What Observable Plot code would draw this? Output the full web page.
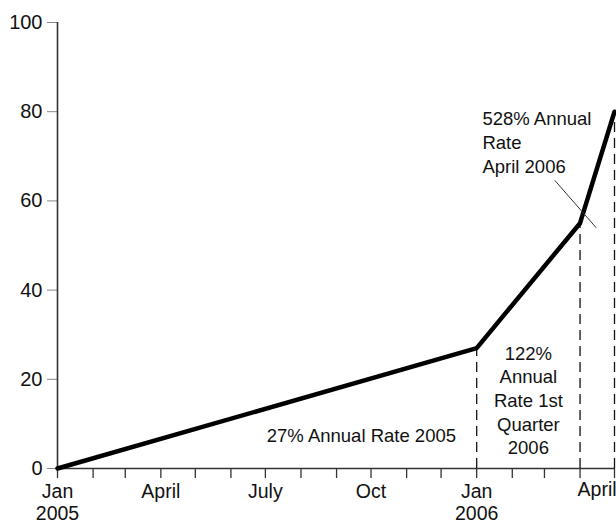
<!DOCTYPE html>
<html>
<head>
<meta charset="utf-8">
<script src="https://cdn.jsdelivr.net/npm/d3@7"></script>
<script src="https://cdn.jsdelivr.net/npm/@observablehq/plot@0.6"></script>
<style>
  html, body { margin: 0; padding: 0; background: #fff; }
  #chart svg { display: block; }
</style>
</head>
<body>
<div id="chart"></div>
<script>
// ---- data ----
const dates = ["2005-01-01", "2006-01-01", "2006-04-01", "2006-05-01"];
const values = [0, 27, 55, 80];
const dashDates = ["2006-01-01", "2006-04-01", "2006-05-01"];
const dashValues = [27, 55, 80];
const yTicks = [0, 20, 40, 60, 80, 100];
const labelDates = ["2005-01-01", "2005-04-01", "2005-07-01", "2005-10-01", "2006-01-01"];
const labelTexts = ["Jan\n2005", "April", "July", "Oct", "Jan\n2006"];
const lastLabelDate = "2006-04-01";
const lastLabelText = "April";
const note2005 = "27% Annual Rate 2005";
const noteQ1 = "122%\nAnnual\nRate 1st\nQuarter\n2006";
const noteApril = "528% Annual\nRate\nApril 2006";

const parse = d3.utcParse("%Y-%m-%d");
const series = dates.map((d, i) => ({date: parse(d), value: values[i]}));
const dashes = dashDates.map((d, i) => ({date: parse(d), value: dashValues[i]}));
const months = d3.utcMonth.range(parse("2005-01-01"), parse("2006-05-02"));
const labels = labelDates.map((d, i) => ({date: parse(d), text: labelTexts[i]}));

const font = "'Liberation Sans', Arial, Helvetica, sans-serif";

const chart = Plot.plot({
  width: 616,
  height: 528,
  marginLeft: 57,
  marginRight: 2,
  marginTop: 22,
  marginBottom: 60,
  style: {fontFamily: font, background: "#fff"},
  x: {type: "utc", domain: [parse("2005-01-01"), parse("2006-05-01")], axis: null},
  y: {domain: [0, 100], axis: null},
  marks: [
    // y axis
    Plot.axisY({ticks: yTicks, tickSize: 10, tickPadding: 5, fontSize: 20, stroke: "#888", color: "#111", label: null}),
    Plot.ruleX([parse("2005-01-01")], {y1: 0, y2: 100, stroke: "#333", strokeWidth: 1.6}),
    // x axis
    Plot.axisX({ticks: months, tickSize: 10, tickFormat: () => "", stroke: "#333", strokeWidth: 1.3, label: null}),
    Plot.ruleY([0], {stroke: "#333", strokeWidth: 1.6}),
    Plot.text(labels, {x: "date", y: 0, text: "text", dy: 14, lineAnchor: "top", fontSize: 19.5, fill: "#111", lineHeight: 1.13}),
    Plot.text([lastLabelText], {x: () => parse(lastLabelDate), y: 0, dy: 14, lineAnchor: "top", dx: 17, fontSize: 19.5, fill: "#111"}),
    // dashed verticals
    Plot.ruleX(dashes, {x: "date", y1: 0, y2: "value", stroke: "#111", strokeWidth: 1.3, strokeDasharray: "10,6"}),
    // main line
    Plot.line(series, {x: "date", y: "value", stroke: "#000", strokeWidth: 4.5, strokeLinejoin: "miter"}),
    // leader line
    Plot.link([0], {x1: () => parse("2006-03-10"), y1: 64.6, x2: () => parse("2006-04-15"), y2: 54, stroke: "#333", strokeWidth: 1}),
    // annotations
    Plot.text([note2005], {x: () => parse("2005-12-14"), y: 7.2, textAnchor: "end", fontSize: 18.5, fill: "#111"}),
    Plot.text([noteQ1], {x: () => parse("2006-02-15"), y: 15.5, textAnchor: "middle", fontSize: 18.5, lineHeight: 1.28, fill: "#111"}),
    Plot.text([noteApril], {x: () => parse("2006-01-06"), y: 73.3, textAnchor: "start", fontSize: 18.5, lineHeight: 1.3, fill: "#111"})
  ]
});
document.getElementById("chart").appendChild(chart);
</script>
</body>
</html>
